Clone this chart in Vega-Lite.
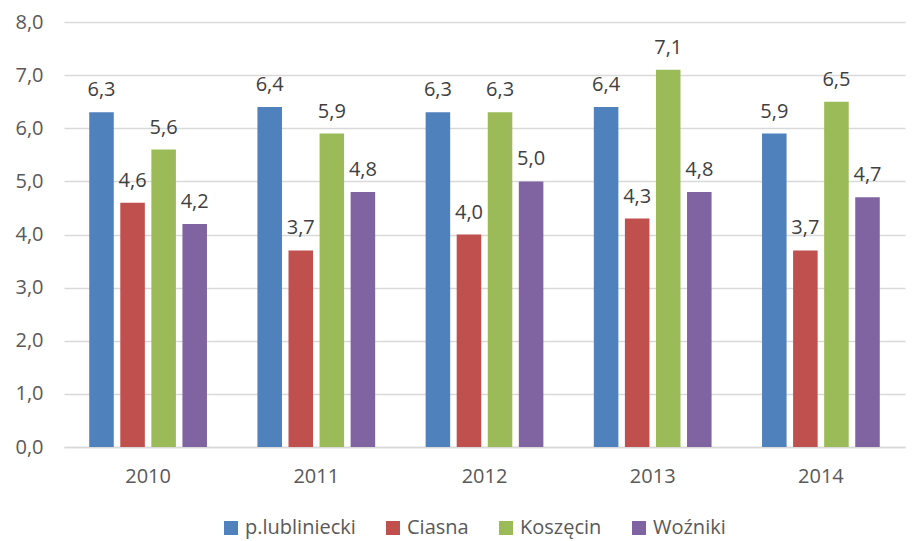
{
  "$schema": "https://vega.github.io/schema/vega-lite/v6.json",
  "width": 841,
  "height": 425,
  "autosize": {"type": "none"},
  "padding": {"left": 64, "top": 22, "right": 7, "bottom": 94},
  "background": "white",
  "config": {
    "font": "Open Sans",
    "locale": {"number": {"decimal": ",", "thousands": " ", "grouping": [3], "currency": ["", " zł"]}},
    "view": {"stroke": null},
    "axis": {"labelFont": "Open Sans", "labelColor": "#595959", "labelFontSize": 20},
    "legend": {"labelFont": "Open Sans", "labelColor": "#595959", "labelFontSize": 20}
  },
  "data": {
    "values": [
      {"year": "2010", "series": "p.lubliniecki", "value": 6.3},
      {"year": "2010", "series": "Ciasna", "value": 4.6},
      {"year": "2010", "series": "Koszęcin", "value": 5.6},
      {"year": "2010", "series": "Woźniki", "value": 4.2},
      {"year": "2011", "series": "p.lubliniecki", "value": 6.4},
      {"year": "2011", "series": "Ciasna", "value": 3.7},
      {"year": "2011", "series": "Koszęcin", "value": 5.9},
      {"year": "2011", "series": "Woźniki", "value": 4.8},
      {"year": "2012", "series": "p.lubliniecki", "value": 6.3},
      {"year": "2012", "series": "Ciasna", "value": 4.0},
      {"year": "2012", "series": "Koszęcin", "value": 6.3},
      {"year": "2012", "series": "Woźniki", "value": 5.0},
      {"year": "2013", "series": "p.lubliniecki", "value": 6.4},
      {"year": "2013", "series": "Ciasna", "value": 4.3},
      {"year": "2013", "series": "Koszęcin", "value": 7.1},
      {"year": "2013", "series": "Woźniki", "value": 4.8},
      {"year": "2014", "series": "p.lubliniecki", "value": 5.9},
      {"year": "2014", "series": "Ciasna", "value": 3.7},
      {"year": "2014", "series": "Koszęcin", "value": 6.5},
      {"year": "2014", "series": "Woźniki", "value": 4.7}
    ]
  },
  "encoding": {
    "x": {
      "field": "year", "type": "nominal", "title": null,
      "scale": {"paddingInner": 0.3, "paddingOuter": 0.15},
      "axis": {"labelAngle": 0, "ticks": false, "domain": true, "domainColor": "#d9d9d9", "domainWidth": 1.5, "labelPadding": 19}
    },
    "xOffset": {
      "field": "series", "type": "nominal",
      "sort": ["p.lubliniecki", "Ciasna", "Koszęcin", "Woźniki"],
      "scale": {"paddingInner": 0.21, "paddingOuter": 0}
    },
    "y": {
      "field": "value", "type": "quantitative", "title": null,
      "scale": {"domain": [0, 8], "nice": false},
      "axis": {"values": [0, 1, 2, 3, 4, 5, 6, 7, 8], "format": ".1f", "ticks": false, "domain": false, "gridColor": "#d9d9d9", "gridWidth": 1.3, "labelPadding": 21}
    }
  },
  "layer": [
    {
      "mark": {"type": "bar"},
      "encoding": {
        "color": {
          "field": "series", "type": "nominal",
          "sort": ["p.lubliniecki", "Ciasna", "Koszęcin", "Woźniki"],
          "scale": {"domain": ["p.lubliniecki", "Ciasna", "Koszęcin", "Woźniki"], "range": ["#4F81BD", "#C0504D", "#9BBB59", "#8064A2"]},
          "legend": {"title": null, "orient": "none", "direction": "horizontal", "legendX": 157, "legendY": 496, "symbolType": "square", "symbolSize": 196, "symbolStrokeWidth": 0, "columnPadding": 27, "labelOffset": 4}
        }
      }
    },
    {
      "mark": {"type": "text", "baseline": "bottom", "dy": -12, "fontSize": 20, "color": "#404040", "font": "Open Sans"},
      "encoding": {
        "text": {"field": "value", "type": "quantitative", "format": ".1f"},
        "detail": {"field": "series"}
      }
    }
  ]
}
